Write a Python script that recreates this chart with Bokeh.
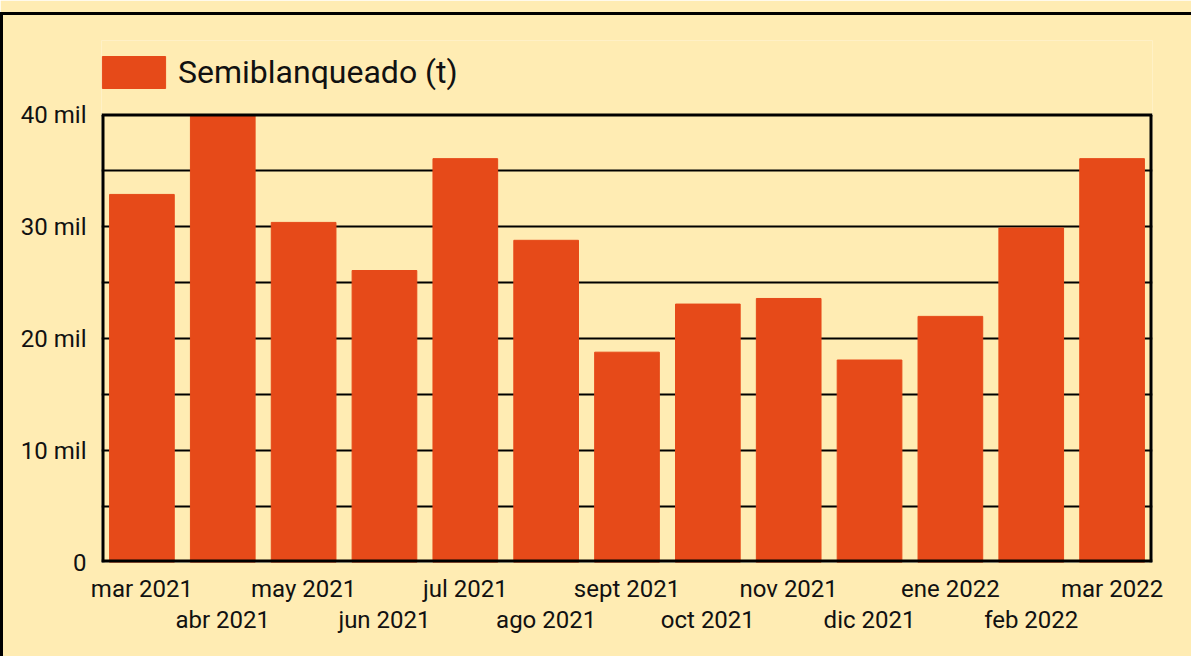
from bokeh.plotting import figure
from bokeh.models import (Range1d, FactorRange, CategoricalAxis, FixedTicker,
                          CustomJSTickFormatter, InlineStyleSheet)
from bokeh.embed import file_html
from bokeh.resources import INLINE

months = ["mar 2021", "abr 2021", "may 2021", "jun 2021", "jul 2021", "ago 2021",
          "sept 2021", "oct 2021", "nov 2021", "dic 2021", "ene 2022", "feb 2022",
          "mar 2022"]
values = [32900, 40000, 30400, 26100, 36100, 28800, 18800, 23100, 23600, 18100,
          22000, 29900, 36100]
y_ticks = [0, 10000, 20000, 30000, 40000]
y_tick_labels = ["0", "10 mil", "20 mil", "30 mil", "40 mil"]
grid_step = 5000
series_name = "Semiblanqueado (t)"

BG = "#FFECB3"
BAR = "#E64A19"
FONT = "Roboto"
TXT = "#111111"

W, H = 1191, 656
TOP, BOTTOM, LEFT, RIGHT = 40, 94, 101, 39
frame_h = H - TOP - BOTTOM
axis_top_px = 562 - 114.5          # plotted area (0..40 mil) height in px
y_max = y_ticks[-1]
y_end = y_max * frame_h / axis_top_px   # extra room above for the legend

p = figure(width=W, height=H, x_range=FactorRange(*months),
           y_range=Range1d(0, y_end), output_backend="svg", toolbar_location=None,
           min_border_left=LEFT, min_border_top=TOP, min_border_right=RIGHT,
           min_border_bottom=BOTTOM, background_fill_color=BG,
           border_fill_color=BG)
p.stylesheets = [InlineStyleSheet(css=(
    ":host::after{content:'';position:absolute;left:0;top:12px;right:0;bottom:0;"
    "border-left:3px solid #000;border-top:3px solid #000;"
    "pointer-events:none;z-index:10;}"))]
p.outline_line_color = None

p.xgrid.grid_line_color = None
p.ygrid.ticker = FixedTicker(ticks=list(range(grid_step, y_max, grid_step)))
p.ygrid.grid_line_color = "black"
p.ygrid.grid_line_width = 2

p.vbar(x=months, top=values, width=0.8, color=BAR, legend_label=series_name)

# plot-area box (0 .. 40 mil)
n = len(months)
p.segment(x0=[0, 0, 0, n], y0=[y_max, 0, 0, 0], x1=[n, 0, n, n],
          y1=[y_max, y_max, 0, y_max], line_width=[3, 6, 6, 6], line_color="black")

yax = p.yaxis[0]
yax.ticker = FixedTicker(ticks=y_ticks)
yax.major_label_overrides = {t: l for t, l in zip(y_ticks, y_tick_labels)}
yax.axis_line_color = None
yax.major_tick_line_color = None
yax.minor_tick_line_color = None
yax.major_label_standoff = 9
yax.major_label_text_font = FONT
yax.major_label_text_font_size = "24px"
yax.major_label_text_color = TXT

ax1 = p.xaxis[0]
ax2 = CategoricalAxis()
p.add_layout(ax2, "below")
for k, ax in enumerate([ax1, ax2]):
    ax.axis_line_color = None
    ax.major_tick_line_color = None
    ax.minor_tick_line_color = None
    ax.major_label_text_font = FONT
    ax.major_label_text_font_size = "24px"
    ax.major_label_text_color = TXT
    ax.formatter = CustomJSTickFormatter(
        args=dict(k=k), code="return (index % 2 == k) ? tick : '';")
ax1.major_label_standoff = 6
ax2.major_label_standoff = -6

leg = p.legend[0]
leg.location = (-7, 470)
leg.margin = 0
leg.glyph_width = 79
leg.glyph_height = 40
leg.label_text_font = FONT
leg.label_text_font_size = "32px"
leg.label_text_color = TXT
leg.label_standoff = 5
leg.padding = 0
leg.spacing = 0
leg.border_line_color = None
leg.background_fill_alpha = 0

open("out.html", "w").write(file_html(p, INLINE))
